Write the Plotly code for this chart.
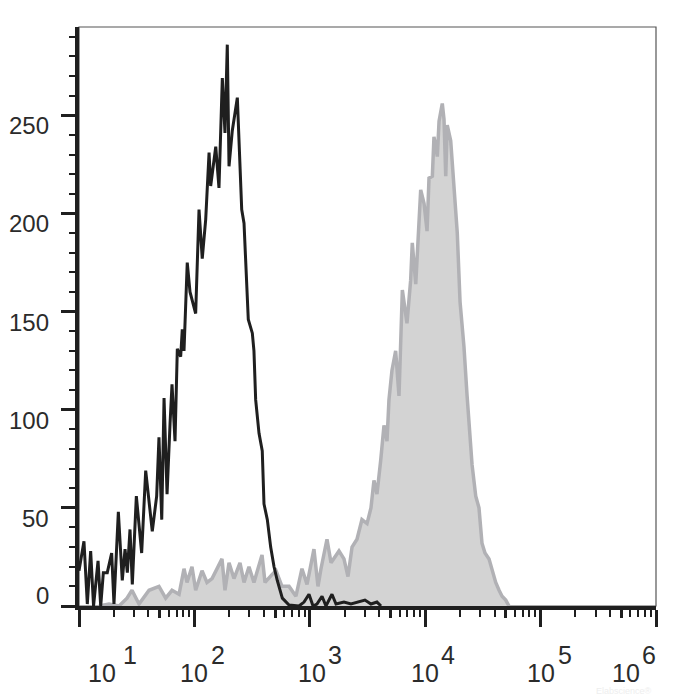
import plotly.graph_objects as go

# histogram outlines
# x positions in decades (log10 of fluorescence), y = cell count

black_decade = [1.000, 1.043, 1.072, 1.101, 1.126, 1.165, 1.188, 1.211, 1.245, 1.283,
                1.303, 1.341, 1.375, 1.399, 1.419, 1.442, 1.462, 1.497, 1.543, 1.578,
                1.635, 1.673, 1.693, 1.717, 1.737, 1.763, 1.789, 1.806, 1.832, 1.852,
                1.881, 1.895, 1.910, 1.938, 1.962, 2.011, 2.040, 2.068, 2.098, 2.127,
                2.141, 2.185, 2.213, 2.242, 2.265, 2.285, 2.300, 2.328, 2.372, 2.386,
                2.410, 2.430, 2.444, 2.467, 2.502, 2.516, 2.531, 2.560, 2.588, 2.603,
                2.632, 2.661, 2.690, 2.718, 2.762, 2.820, 2.906, 2.950, 2.993, 3.028,
                3.062, 3.106, 3.140, 3.192, 3.227, 3.296, 3.357, 3.426, 3.478, 3.530,
                3.582, 3.617]
black_count = [18, 33, 1, 28, 0, 23, 0, 17, 17, 27,
               1, 48, 13, 29, 17, 39, 11, 56, 27, 69,
               38, 56, 86, 44, 106, 57, 93, 113, 84, 131,
               127, 141, 130, 175, 160, 149, 202, 177, 197, 231,
               214, 234, 213, 269, 241, 286, 224, 242, 259, 241,
               202, 195, 175, 146, 139, 130, 105, 88, 79, 52,
               44, 30, 20, 13, 4, 0.5, 0, 2, 6, 0,
               1, 5, 0, 6, 1, 2, 1, 2, 3, 1,
               2, 0]

gray_decade = [1.173, 1.260, 1.347, 1.416, 1.459, 1.520, 1.607, 1.693, 1.751, 1.806,
               1.867, 1.910, 1.936, 1.979, 2.011, 2.066, 2.109, 2.153, 2.239, 2.265,
               2.300, 2.343, 2.395, 2.430, 2.473, 2.516, 2.586, 2.612, 2.672, 2.707,
               2.759, 2.820, 2.880, 2.932, 2.976, 3.036, 3.071, 3.097, 3.149, 3.184,
               3.253, 3.296, 3.331, 3.366, 3.409, 3.452, 3.496, 3.530, 3.556, 3.582,
               3.614, 3.643, 3.669, 3.686, 3.712, 3.744, 3.773, 3.787, 3.802, 3.842,
               3.874, 3.888, 3.918, 3.961, 3.990, 4.016, 4.033, 4.062, 4.076, 4.105,
               4.120, 4.148, 4.163, 4.178, 4.191, 4.221, 4.250, 4.278, 4.302, 4.336,
               4.362, 4.406, 4.438, 4.466, 4.492, 4.518, 4.553, 4.579, 4.611, 4.640,
               4.666, 4.698, 4.726]
gray_count = [0, 1, 0, 4, 8, 1, 8, 10, 4, 8,
              6, 19, 12, 20, 8, 18, 12, 14, 24, 8,
              22, 14, 22, 12, 20, 12, 26, 12, 16, 18,
              10, 10, 5, 19, 11, 29, 10, 19, 34, 22,
              28, 24, 15, 30, 34, 44, 42, 50, 64, 57,
              74, 92, 84, 105, 120, 130, 107, 130, 161, 144,
              166, 185, 164, 212, 205, 191, 218, 219, 239, 229,
              247, 256, 248, 219, 245, 237, 215, 190, 155, 132,
              108, 72, 56, 50, 32, 27, 24, 18, 12, 8,
              5, 3, 0]

# axis ticks
decade_ticks = [10, 100, 1000, 10000, 100000, 1000000]
mid_ticks = [50, 500, 5000, 50000, 500000]
minor_x_ticks = [k * d for d in [10, 100, 1000, 10000, 100000] for k in [2, 3, 4, 6, 7, 8, 9]]
exponent_labels = ["1", "2", "3", "4", "5", "6"]
count_ticks = [0, 50, 100, 150, 200, 250]
minor_count_ticks = [v for v in range(10, 300, 10) if v % 50 != 0]

# label nudges (end labels are pulled inside the frame)
base_shift = [23, 0, 2, 0, 0, -30]
exp_shift = [51, 24, 25, 23, 24, -7]

FONT = "Liberation Sans, Arial, sans-serif"
INK = "#2b2b2b"

fig = go.Figure()

# stained sample: filled grey histogram
fig.add_trace(go.Scatter(
    x=[10 ** d for d in gray_decade],
    y=gray_count,
    mode="lines",
    line=dict(color="#b1b1b5", width=3.5),
    fill="tozeroy",
    fillcolor="#d3d3d3",
    hoverinfo="skip",
))

# isotype control: black outline
fig.add_trace(go.Scatter(
    x=[10 ** d for d in black_decade],
    y=black_count,
    mode="lines",
    line=dict(color="#1f1f1f", width=3),
    hoverinfo="skip",
))

# page body adds 8px, so margins are 8px smaller than the target picture
fig.update_layout(
    width=700,
    height=700,
    margin=dict(l=71, r=52, t=19, b=102),
    paper_bgcolor="white",
    plot_bgcolor="white",
    showlegend=False,
    font=dict(family=FONT, color=INK),
    xaxis=dict(
        type="log",
        range=[1, 6],
        showgrid=False,
        zeroline=False,
        showline=True,
        linecolor="#1f1f1f",
        linewidth=4,
        ticks="outside",
        tickvals=decade_ticks,
        ticklen=17,
        tickwidth=3,
        tickcolor="#1f1f1f",
        showticklabels=False,
        minor=dict(tickvals=minor_x_ticks, ticks="outside", ticklen=7,
                   tickwidth=2, tickcolor="#1f1f1f", showgrid=False),
    ),
    # second x axis only to draw the medium ticks at 5 x 10^n
    xaxis2=dict(
        type="log",
        range=[1, 6],
        overlaying="x",
        anchor="y",
        side="bottom",
        showgrid=False,
        zeroline=False,
        showline=False,
        ticks="outside",
        tickvals=mid_ticks,
        ticklen=11,
        tickwidth=3,
        tickcolor="#1f1f1f",
        showticklabels=False,
    ),
    yaxis=dict(
        range=[0, 295],
        showgrid=False,
        zeroline=False,
        showline=True,
        linecolor="#1f1f1f",
        linewidth=3.5,
        ticks="outside",
        tickvals=count_ticks,
        ticklen=14,
        tickwidth=3,
        tickcolor="#1f1f1f",
        showticklabels=False,
        minor=dict(tickvals=minor_count_ticks, ticks="outside", ticklen=6,
                   tickwidth=2, tickcolor="#1f1f1f", showgrid=False),
    ),
)

# invisible trace on x2 so that axis gets drawn
fig.add_trace(go.Scatter(x=[10, 1000000], y=[0, 0], xaxis="x2", mode="lines",
                         line=dict(width=0), hoverinfo="skip", showlegend=False))

# thin frame on top and right
fig.add_shape(type="rect", xref="paper", yref="paper", x0=0, x1=1, y0=0, y1=1,
              line=dict(color="#555555", width=1.2), layer="below")

# count labels
for v in count_ticks:
    fig.add_annotation(
        x=0, xref="paper", y=v, yref="y",
        text=str(v), showarrow=False,
        xanchor="right", xshift=-28,
        yanchor="bottom" if v == 0 else "top",
        yshift=-5 if v == 0 else 5,
        font=dict(family=FONT, size=24, color=INK),
    )

# decade labels written as 10 with a raised exponent
for i, t in enumerate(decade_ticks):
    fig.add_annotation(
        x=i + 1, xref="x", y=0, yref="paper",
        text="10", showarrow=False,
        xanchor="center", xshift=base_shift[i],
        yanchor="middle", yshift=-67,
        font=dict(family=FONT, size=25, color=INK),
    )
    fig.add_annotation(
        x=i + 1, xref="x", y=0, yref="paper",
        text=exponent_labels[i], showarrow=False,
        xanchor="center", xshift=exp_shift[i],
        yanchor="middle", yshift=-49,
        font=dict(family=FONT, size=25, color=INK),
    )

# faint watermark, kept just under the last decade label
fig.add_annotation(
    x=1, xref="paper", y=0, yref="paper",
    text="Elabscience®", showarrow=False,
    xanchor="right", xshift=-2, yanchor="bottom", yshift=-92,
    font=dict(family=FONT, size=9, color="#eeeeee"),
)

fig.write_html("out.html")
